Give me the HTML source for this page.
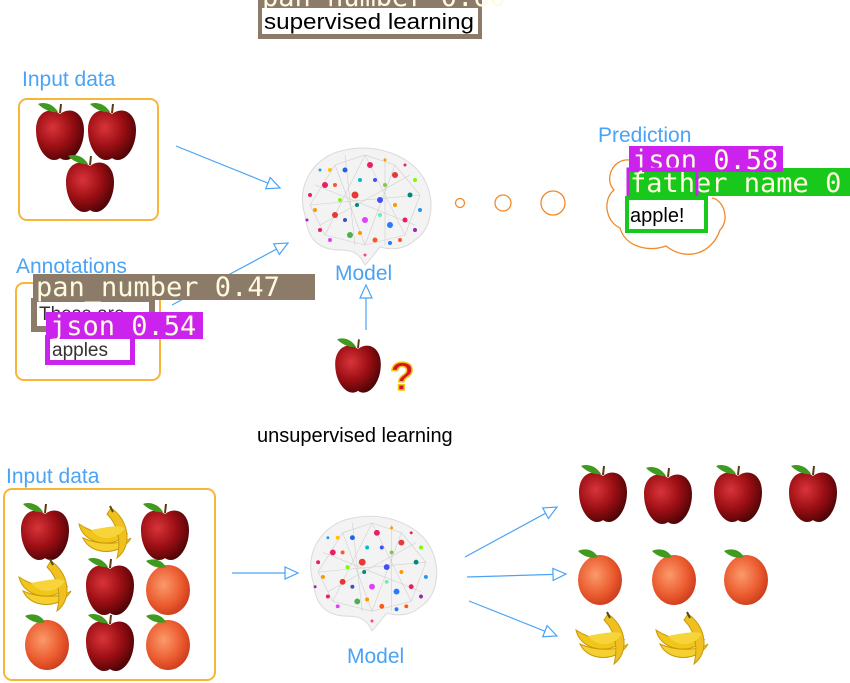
<!DOCTYPE html>
<html><head><meta charset="utf-8"><style>
html,body{margin:0;padding:0;background:#fff;width:850px;height:683px;overflow:hidden}
svg{display:block}
text{font-family:"Liberation Sans",sans-serif}
.b{fill:#4aa3f5;font-size:21px}
.m{font-family:"DejaVu Sans Mono","Liberation Mono",monospace;fill:#fffbe0;font-size:27px}
</style></head><body>
<svg width="850" height="683" viewBox="0 0 850 683" xmlns="http://www.w3.org/2000/svg">
<defs>
<radialGradient id="ag" cx="0.35" cy="0.35" r="0.7"><stop offset="0" stop-color="#d8343a"/><stop offset="0.55" stop-color="#9c0f14"/><stop offset="1" stop-color="#4f0407"/></radialGradient>
<radialGradient id="pg" cx="0.4" cy="0.4" r="0.7"><stop offset="0" stop-color="#fb9a6a"/><stop offset="0.6" stop-color="#ea5a2e"/><stop offset="1" stop-color="#c2351a"/></radialGradient>
<g id="apple"><path d="M0,-18 C-10,-26 -24,-20 -24,-2 C-24,16 -14,28 -6,28 C-2,28 0,26 0,26 C0,26 2,28 6,28 C14,28 24,16 24,-2 C24,-20 10,-26 0,-18Z" fill="url(#ag)"/><path d="M-2,-20 C-8,-30 -18,-30 -22,-28 C-16,-22 -8,-19 -2,-20Z" fill="#3f9a1f"/><path d="M0,-19 L1,-28" stroke="#5a3a10" stroke-width="2"/></g>
<g id="peach"><ellipse cx="0" cy="3" rx="22" ry="25" fill="url(#pg)"/><path d="M-2,-20 C-8,-30 -18,-28 -22,-26 C-16,-20 -8,-18 -2,-20Z" fill="#3f9a1f"/></g>
<g id="banana"><path d="M-26,-8 C-22,12 8,18 22,2 C14,4 -8,4 -26,-8Z" fill="#f2c51b" stroke="#c99a08" stroke-width="1"/><path d="M-22,6 C-14,24 16,24 26,6 C18,12 -4,14 -22,6Z" fill="#f5d030" stroke="#c99a08" stroke-width="1"/><path d="M6,-24 C24,-12 28,14 12,26 C16,10 14,-6 2,-18Z" fill="#f0c020" stroke="#c99a08" stroke-width="1"/><path d="M-14,-2 C-4,10 12,8 20,-4 C14,-8 -2,-4 -14,-2Z" fill="#f7d43a"/><path d="M5,-26 L8,-20" stroke="#5a4a10" stroke-width="2"/></g>
<g id="brain">
<path d="M-60,10 C-70,-20 -50,-50 -20,-55 C10,-62 50,-50 62,-20 C70,0 66,25 50,35 C40,45 25,45 15,42 C10,48 5,55 0,60 C-5,50 -10,45 -25,45 C-50,45 -58,30 -60,10Z" fill="#f3f3f3" stroke="#dadada" stroke-width="1"/>
<g stroke="#cfcfcf" stroke-width="0.6" fill="none"><path d="M-55,0 L-30,-40 L0,-50 L30,-40 L55,-10 L40,30 L0,40 L-40,30 Z M-30,-40 L0,40 L30,-40 M-55,0 L55,-10 M-40,30 L0,-50 L40,30 M-50,-20 L50,20 M-45,20 L45,-30 M-20,-50 L-10,40 M20,-48 L20,40"/></g>
<g><circle cx="-40" cy="-20" r="3" fill="#e91e63"/><circle cx="-20" cy="-35" r="2.5" fill="#1e63e9"/><circle cx="5" cy="-40" r="3" fill="#e91e63"/><circle cx="30" cy="-30" r="3" fill="#e53935"/><circle cx="45" cy="-10" r="2.5" fill="#00897b"/><circle cx="-10" cy="-10" r="3.5" fill="#e53935"/><circle cx="15" cy="-5" r="3" fill="#3f51f5"/><circle cx="-30" cy="10" r="3" fill="#e53935"/><circle cx="-50" cy="5" r="2" fill="#ff9800"/><circle cx="0" cy="15" r="3" fill="#e040fb"/><circle cx="25" cy="20" r="3" fill="#2979ff"/><circle cx="40" cy="15" r="2.5" fill="#e91e63"/><circle cx="-15" cy="30" r="3" fill="#4caf50"/><circle cx="10" cy="35" r="2.5" fill="#ff5722"/><circle cx="-45" cy="25" r="2" fill="#e91e63"/><circle cx="-25" cy="-5" r="2" fill="#76ff03"/><circle cx="30" cy="0" r="2" fill="#ff9800"/><circle cx="50" cy="25" r="2" fill="#9c27b0"/><circle cx="-5" cy="-25" r="2" fill="#00bcd4"/><circle cx="20" cy="-20" r="2" fill="#8bc34a"/><circle cx="-35" cy="-35" r="2" fill="#ffc107"/><circle cx="-20" cy="15" r="2" fill="#3f51b5"/><circle cx="15" cy="10" r="2" fill="#69f0ae"/><circle cx="-55" cy="-10" r="2" fill="#e91e63"/><circle cx="55" cy="5" r="2" fill="#2196f3"/><circle cx="0" cy="50" r="1.5" fill="#ff4081"/><circle cx="35" cy="35" r="2" fill="#ff5722"/><circle cx="-8" cy="0" r="2" fill="#00897b"/><circle cx="-30" cy="-20" r="2" fill="#ff5722"/><circle cx="10" cy="-25" r="2" fill="#3f51f5"/><circle cx="40" cy="-40" r="1.5" fill="#e91e63"/><circle cx="-45" cy="-35" r="1.5" fill="#2196f3"/><circle cx="-35" cy="35" r="2" fill="#e040fb"/><circle cx="25" cy="38" r="2" fill="#2979ff"/><circle cx="-5" cy="28" r="2" fill="#ff9800"/><circle cx="50" cy="-25" r="2" fill="#76ff03"/><circle cx="-58" cy="15" r="1.5" fill="#9c27b0"/><circle cx="20" cy="-45" r="1.5" fill="#ff9800"/></g>
</g>
<marker id="ar" markerWidth="16" markerHeight="14" refX="14" refY="7" orient="auto" markerUnits="userSpaceOnUse"><path d="M1,1 L14,7 L1,13 Z" fill="#fff" stroke="#4aa3f5" stroke-width="1.2"/></marker>
</defs>

<rect x="258" y="-4" width="224" height="43" fill="#8d7b6a"/>
<text x="262" y="6" class="m">pan_number 0.60</text>
<rect x="262" y="8" width="216" height="26" fill="#fff"/>
<text x="264" y="29" font-size="22" fill="#000" textLength="210" lengthAdjust="spacingAndGlyphs">supervised learning</text>

<text x="22" y="86" class="b">Input data</text>
<rect x="19" y="99" width="139" height="121" rx="8" fill="none" stroke="#f7b53a" stroke-width="2"/>
<use href="#apple" transform="translate(60,132) scale(1)"/>
<use href="#apple" transform="translate(112,132) scale(1)"/>
<use href="#apple" transform="translate(90,184) scale(1)"/>
<line x1="176" y1="146" x2="280" y2="188" stroke="#4aa3f5" stroke-width="1.2" marker-end="url(#ar)"/>
<use href="#brain" transform="translate(365,205)"/>
<text x="335" y="280" class="b">Model</text>
<circle cx="460" cy="203" r="4.5" fill="none" stroke="#f08a2a" stroke-width="1.3"/>
<circle cx="503" cy="203" r="8" fill="none" stroke="#f08a2a" stroke-width="1.3"/>
<circle cx="553" cy="203" r="12" fill="none" stroke="#f08a2a" stroke-width="1.3"/>
<text x="598" y="142" class="b">Prediction</text>
<path d="M630,160 C612,158 604,180 614,190 C602,200 606,222 620,228 C626,248 650,252 666,246 C686,262 712,254 720,230 C730,220 724,200 712,198" fill="none" stroke="#f08a2a" stroke-width="1.3"/>
<rect x="627" y="168" width="223" height="28" fill="#18c81a"/>
<text x="630" y="192" class="m">father_name 0</text>
<rect x="629" y="146" width="154" height="26" fill="#cc22ee"/>
<text x="632" y="169" class="m">json 0.58</text>
<rect x="628" y="169" width="69" height="32" fill="none" stroke="#cc22ee" stroke-width="3"/>
<rect x="627" y="198" width="79" height="33" fill="#fff" stroke="#18c81a" stroke-width="4"/>
<text x="630" y="222" font-size="20" fill="#000">apple!</text>

<text x="16" y="273" class="b">Annotations</text>
<rect x="16" y="283" width="144" height="97" rx="8" fill="none" stroke="#f7b53a" stroke-width="2"/>
<line x1="172" y1="305" x2="288" y2="243" stroke="#4aa3f5" stroke-width="1.2" marker-end="url(#ar)"/>
<rect x="31" y="298" width="124" height="34" fill="#8d7b6a"/>
<rect x="37" y="302" width="112" height="24" fill="#fff"/>
<text x="39" y="320" font-size="19" fill="#333">These are</text>
<rect x="33" y="274" width="282" height="26" fill="#8d7b6a"/>
<text x="36" y="296" class="m">pan_number 0.47</text>
<rect x="45" y="335" width="90" height="30" fill="#cc22ee"/>
<rect x="50" y="338" width="80" height="22" fill="#fff"/>
<text x="52" y="356" font-size="19" fill="#333">apples</text>
<rect x="46" y="312" width="157" height="27" fill="#cc22ee"/>
<text x="50" y="335" class="m">json 0.54</text>
<line x1="366" y1="330" x2="366" y2="285" stroke="#4aa3f5" stroke-width="1.2" marker-end="url(#ar)"/>
<use href="#apple" transform="translate(358,366) scale(0.95)"/>
<text x="390" y="390" font-size="40" font-weight="bold" fill="#d8142a" stroke="#f5c518" stroke-width="1.5">?</text>

<text x="257" y="442" font-size="20" fill="#000">unsupervised learning</text>

<text x="6" y="483" class="b">Input data</text>
<rect x="4" y="489" width="211" height="191" rx="8" fill="none" stroke="#f7b53a" stroke-width="2"/>
<use href="#apple" transform="translate(45,532) scale(1)"/>
<use href="#banana" transform="translate(105,532)"/>
<use href="#apple" transform="translate(165,532) scale(1)"/>
<use href="#banana" transform="translate(45,585)"/>
<use href="#apple" transform="translate(110,587) scale(1)"/>
<use href="#peach" transform="translate(168,587)"/>
<use href="#peach" transform="translate(47,642)"/>
<use href="#apple" transform="translate(110,643) scale(1)"/>
<use href="#peach" transform="translate(168,642)"/>
<line x1="232" y1="573" x2="298" y2="573" stroke="#4aa3f5" stroke-width="1.2" marker-end="url(#ar)"/>
<use href="#brain" transform="translate(372,572) scale(0.98)"/>
<text x="347" y="663" class="b">Model</text>
<line x1="465" y1="557" x2="557" y2="507" stroke="#4aa3f5" stroke-width="1.2" marker-end="url(#ar)"/>
<line x1="467" y1="577" x2="566" y2="574" stroke="#4aa3f5" stroke-width="1.2" marker-end="url(#ar)"/>
<line x1="469" y1="601" x2="557" y2="636" stroke="#4aa3f5" stroke-width="1.2" marker-end="url(#ar)"/>
<use href="#apple" transform="translate(603,494) scale(1)"/>
<use href="#apple" transform="translate(668,496) scale(1)"/>
<use href="#apple" transform="translate(738,494) scale(1)"/>
<use href="#apple" transform="translate(813,494) scale(1)"/>
<use href="#peach" transform="translate(600,577)"/>
<use href="#peach" transform="translate(674,577)"/>
<use href="#peach" transform="translate(746,577)"/>
<use href="#banana" transform="translate(602,638)"/>
<use href="#banana" transform="translate(682,638)"/>
</svg>
</body></html>
